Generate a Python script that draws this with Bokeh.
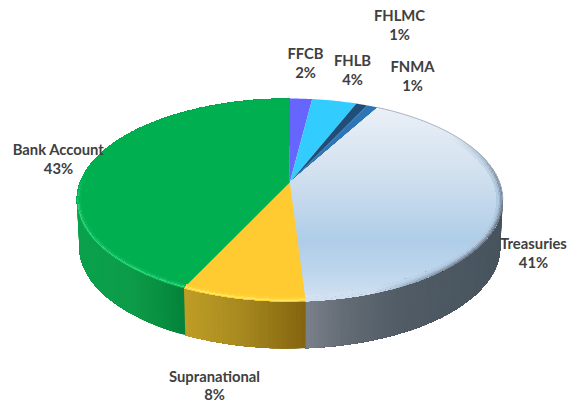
import numpy as np
from bokeh.plotting import figure
from bokeh.models import Range1d
from bokeh.core.properties import value
from bokeh.embed import file_html
from bokeh.resources import INLINE

# ---- chart data (clockwise from 12 o'clock) ----
categories = ["FFCB", "FHLB", "FHLMC", "FNMA", "Treasuries", "Supranational", "Bank Account"]
shares = [2, 4, 1, 1, 41, 8, 43]
percent_labels = ["2%", "4%", "1%", "1%", "41%", "8%", "43%"]
slice_colors = ["#6666FF", "#33CCFF", "#1F4E79", "#2E75B6", "#B0CEE9", "#FFCB30", "#00B050"]
# label centres in picture pixels
label_x = [305, 352, 399, 412, 533, 214, 58]
label_y = [52, 59, 14, 65, 242, 375, 148]
percent_y = [71.5, 78.5, 33.5, 84.5, 261.5, 393, 167.5]

# ---- projection of the tilted disc ----
AX, AY = 289.3, 182.0
KX, PB, PC = 209.8, -67.1, 0.1724
DEPTH, SHRINK = 47.0, 0.988
CY, HW, HH = 199.5, 213.0, 102.0


def top(t, r=1.0):
    u, v = r * np.sin(t), r * np.cos(t)
    d = 1 + PC * v
    return AX + KX * u / d, (AY + PB * v) / d


def inset(t, d):
    x, y = top(t)
    return AX + (x - AX) * (1 - d / HW), CY + (y - CY) * (1 - d / HH)


def low(t):
    x, y = top(t)
    return AX + (x - AX) * SHRINK, y + DEPTH


def hex2(c):
    return np.array([int(c[i:i + 2], 16) for i in (1, 3, 5)], float)


def mix(stops, x):
    xs = [s[0] for s in stops]
    rgb = [np.interp(x, xs, [hex2(s[1])[i] for s in stops]) for i in range(3)]
    return "#%02x%02x%02x" % tuple(int(round(c)) for c in rgb)


def clip(poly, y0, y1):
    def cut(pts, keep, at):
        out = []
        for i in range(len(pts)):
            a, b = pts[i], pts[(i + 1) % len(pts)]
            ka, kb = keep(a[1]), keep(b[1])
            if ka:
                out.append(a)
            if ka != kb:
                f = (at - a[1]) / (b[1] - a[1])
                out.append((a[0] + f * (b[0] - a[0]), at))
        return out
    pts = cut(poly, lambda y: y >= y0, y0)
    if pts:
        pts = cut(pts, lambda y: y <= y1, y1)
    return pts


total = sum(shares)
edges = np.concatenate([[0], np.cumsum(shares)]) / total * 2 * np.pi

WALL = {
    "Treasuries": [(306, "#7c828b"), (345, "#646c75"), (400, "#515c66"), (505, "#47535d")],
    "Supranational": [(184, "#bf9e26"), (240, "#a98a20"), (306, "#85650f")],
    "Bank Account": [(76, "#0aa24c"), (130, "#0d9c49"), (160, "#08903f"), (184, "#04833a")],
}
FACE = [(98, "#edf2f8"), (170, "#d3e1ef"), (240, "#afcde8"), (270, "#bcd5ec"), (301, "#d3e2f1")]
RIM = {
    "Treasuries": ["#6f7f90", "#8a9bae", "#a3b8cc", "#b2cbe2"],
    "Supranational": ["#fdd235", "#ffe866", "#ffdc4c", "#ffcf38"],
    "Bank Account": ["#0fb45c", "#35d57f", "#20c770", "#0cb659"],
}
BEVEL = {
    "Treasuries": [0.0, 1.5, 3.0, 4.5, 6.0],
    "Supranational": [0.0, 1.0, 2.0, 3.0, 4.0],
    "Bank Account": [0.0, 1.0, 2.0, 3.0, 4.0],
}


def rim_weight(name, t):
    if name == "Treasuries":
        # dark only on the right-hand part of the rim, fading out to the back and to the front
        front = np.clip((np.sin(t) - 0.35) / 0.4, 0, 1)
        back = np.clip((0.55 - np.cos(t)) / 0.55, 0, 1)
        return float(front * back)
    return float(np.clip((0.10 - np.cos(t)) / 0.35, 0, 1))


wx, wy, wc = [], [], []
fx, fy, fc = [], [], []
rx, ry, rc = [], [], []
for i, name in enumerate(categories):
    a, b = edges[i], edges[i + 1]
    ts = np.linspace(a, b, max(4, int((b - a) / np.radians(1.0))))
    # side wall: each section runs from its own start to the slice end, so no seams can show
    if name in WALL:
        for t0 in ts[:-1]:
            if np.cos(t0) > 0.25:
                continue
            tail = ts[ts >= t0 - 1e-9]
            x0, y0 = top(tail)
            x1, y1 = low(tail)
            wx.append(list(x0) + list(x1[::-1])); wy.append(list(y0) + list(y1[::-1]))
            wc.append(mix(WALL[name], float(x0[0])))
    # top face
    px, py = top(ts)
    poly = [(AX, AY)] + list(zip(px, py))
    if name == "Treasuries":
        for y in np.arange(98, 302, 3.0):
            part = clip(poly, y, 310)
            if len(part) >= 3:
                fx.append([q[0] for q in part]); fy.append([q[1] for q in part])
                fc.append(mix(FACE, y + 1.5))
    else:
        fx.append([q[0] for q in poly]); fy.append([q[1] for q in poly])
        fc.append(slice_colors[i])
    # bevel along the near rim: nested bands, outermost first
    if name in RIM:
        levels = BEVEL[name]
        tt = ts[np.cos(ts) < 0.55]
        for k in range(4):
            for j in range(len(tt) - 1):
                tail = tt[j:]
                w = rim_weight(name, tt[j])
                if name == "Bank Account":
                    tail = tt[:len(tt) - j]
                    w = rim_weight(name, tail[-1])
                base = slice_colors[i] if name != "Treasuries" else mix(FACE, top(tt[j])[1])
                xa, ya = inset(tail, levels[k])
                xb, yb = inset(tail, levels[-1])
                rx.append(list(xa) + list(xb[::-1])); ry.append(list(ya) + list(yb[::-1]))
                rc.append(mix([(0, base), (1, RIM[name][k])], w))

p = figure(width=579, height=402, output_backend="svg", toolbar_location=None,
           x_range=Range1d(0, 579), y_range=Range1d(402, 0),
           min_border=0, outline_line_color=None)
p.axis.visible = False
p.grid.visible = False

p.patches(wx, wy, fill_color=wc, line_color=None)
p.patches(fx, fy, fill_color=fc, line_color=None)
p.patches(rx, ry, fill_color=rc, line_color=None)

# thin grey edge on the far rim of the Treasuries slice
ti = categories.index("Treasuries")
tt = np.linspace(edges[ti], np.radians(100), 60)
ex, ey = top(tt)
p.line(ex, ey, line_color="#aab4c0", line_width=1)

for i in range(len(categories)):
    for txt, yy in ((categories[i], label_y[i]), (percent_labels[i], percent_y[i])):
        p.text([label_x[i]], [yy], text=[txt], text_align="center", text_baseline="middle",
               text_font=value("Lato"), text_font_style="bold", text_font_size="14.8px",
               text_color="#404040")

open("out.html", "w").write(file_html(p, INLINE))
